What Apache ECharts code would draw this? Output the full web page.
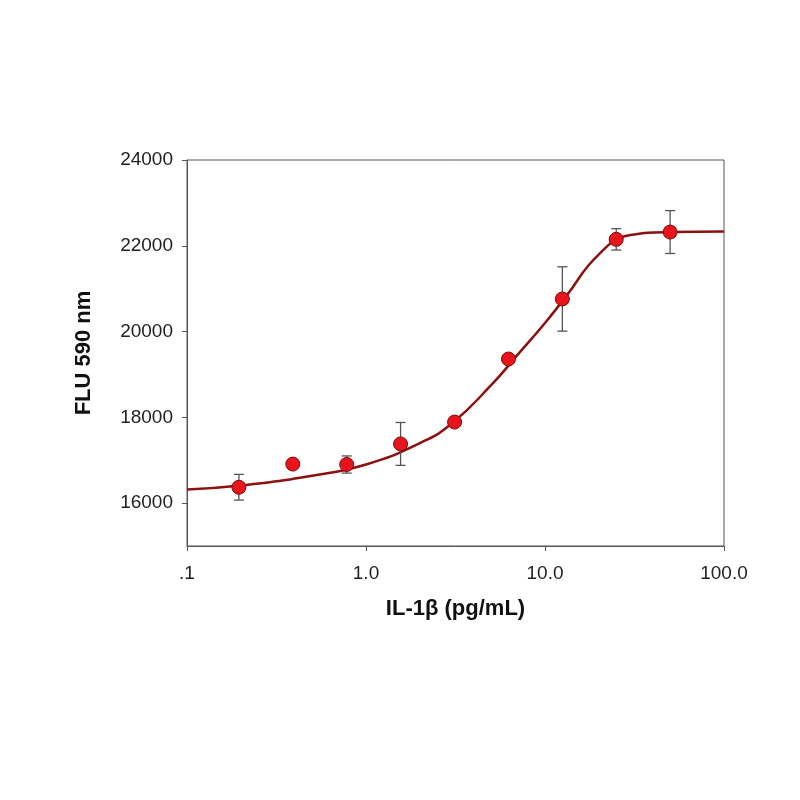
<!DOCTYPE html>
<html><head><meta charset="utf-8">
<script src="https://cdn.jsdelivr.net/npm/echarts@6/dist/echarts.min.js"></script>
<style>html,body{margin:0;background:#fff}#c{width:800px;height:800px}</style>
</head><body><div id="c"></div>
<script>
const conc = [0.195, 0.39, 0.78, 1.56, 3.125, 6.25, 12.5, 25, 50];
const flu = [16370, 16910, 16900, 17380, 17890, 19360, 20760, 22150, 22320];
const err = [300, 80, 200, 500, 80, 80, 750, 250, 500];
const curveX = [0.1, 0.2, 0.5, 1, 2, 3, 5, 7, 10, 13, 20, 30, 50, 100];
const curveY = [16320, 16410, 16640, 16900, 17400, 17850, 18750, 19450, 20200, 20800, 21800, 22250, 22320, 22330];
const yTicks = [16000, 18000, 20000, 22000, 24000];
const xTicks = [0.1, 1, 10, 100];
const xLabels = {0.1: '.1', 1: '1.0', 10: '10.0', 100: '100.0'};

const chart = echarts.init(document.getElementById('c'));
chart.setOption({
  animation: false,
  grid: {left: 187, right: 76, top: 160, bottom: 254, show: true, borderColor: '#555', borderWidth: 1},
  xAxis: {
    type: 'log', min: 0.1, max: 100, logBase: 10,
    name: 'IL-1β (pg/mL)', nameLocation: 'middle', nameGap: 52,
    nameTextStyle: {fontFamily: 'Liberation Sans', fontWeight: 'bold', fontSize: 22, color: '#111'},
    axisLine: {lineStyle: {color: '#555'}},
    axisTick: {customValues: xTicks, length: 5, lineStyle: {color: '#555'}},
    axisLabel: {customValues: xTicks, formatter: v => xLabels[v] || v, fontFamily: 'Liberation Sans', fontSize: 19, color: '#222', margin: 18},
    splitLine: {show: false}, minorTick: {show: false}
  },
  yAxis: {
    type: 'value', min: 15000, max: 24000,
    name: 'FLU 590 nm', nameLocation: 'middle', nameGap: 92,
    nameTextStyle: {fontFamily: 'Liberation Sans', fontWeight: 'bold', fontSize: 22, color: '#111'},
    axisLine: {show: true, lineStyle: {color: '#555'}},
    axisTick: {show: true, customValues: yTicks, length: 5, lineStyle: {color: '#555'}},
    axisLabel: {customValues: yTicks, formatter: v => String(v), fontFamily: 'Liberation Sans', fontSize: 19, color: '#222', margin: 14},
    splitLine: {show: false}
  },
  series: [
    {type: 'line', data: curveX.map((x, i) => [x, curveY[i]]), smooth: true, symbol: 'none',
     lineStyle: {color: '#8b1010', width: 2.5}, z: 2},
    {type: 'custom', z: 3,
     data: conc.map((x, i) => [x, flu[i] - err[i], flu[i] + err[i]]),
     renderItem: (params, api) => {
       const lo = api.coord([api.value(0), api.value(1)]);
       const hi = api.coord([api.value(0), api.value(2)]);
       const w = 5, st = {stroke: '#555', lineWidth: 1.3};
       return {type: 'group', children: [
         {type: 'line', shape: {x1: lo[0], y1: lo[1], x2: hi[0], y2: hi[1]}, style: st},
         {type: 'line', shape: {x1: lo[0]-w, y1: lo[1], x2: lo[0]+w, y2: lo[1]}, style: st},
         {type: 'line', shape: {x1: hi[0]-w, y1: hi[1], x2: hi[0]+w, y2: hi[1]}, style: st}
       ]};
     }},
    {type: 'scatter', data: conc.map((x, i) => [x, flu[i]]), symbol: 'circle', symbolSize: 14, z: 4,
     itemStyle: {color: '#e8141c', borderColor: '#7a0a0a', borderWidth: 1, opacity: 1}}
  ]
});
</script></body></html>
